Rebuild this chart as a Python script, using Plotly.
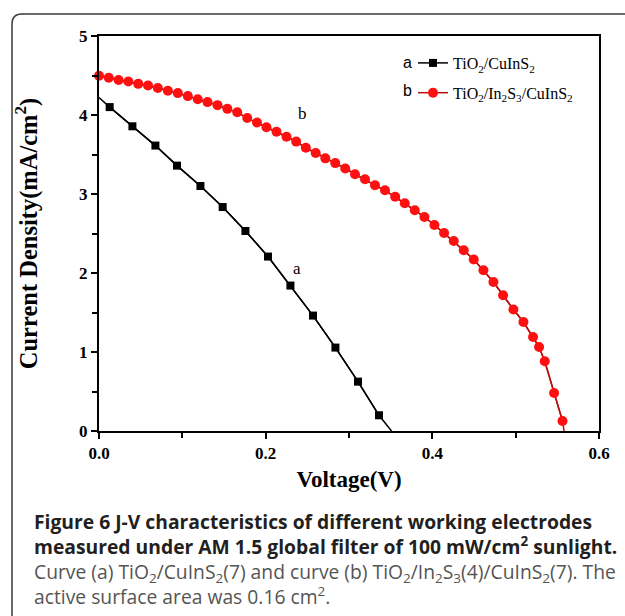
import plotly.graph_objects as go

# ---- data ----
a_v = [0.0128, 0.0401, 0.0677, 0.0936, 0.1217, 0.1484, 0.1757, 0.2028,
       0.2297, 0.2568, 0.2837, 0.3108, 0.3360]
a_j = [4.10, 3.857, 3.613, 3.359, 3.101, 2.835, 2.532, 2.208,
       1.841, 1.461, 1.056, 0.625, 0.199]
a_start = (0.0, 4.22)
a_end = (0.351, 0.0)

b_v = [0.0, 0.0117, 0.0235, 0.0352, 0.0471, 0.0588, 0.0706, 0.0826, 0.0946,
       0.1066, 0.1185, 0.1302, 0.1422, 0.1540, 0.1659, 0.1779, 0.1896, 0.2009,
       0.2130, 0.2250, 0.2366, 0.2482, 0.2600, 0.2716, 0.2835, 0.2955, 0.3072,
       0.3192, 0.3312, 0.3432, 0.3554, 0.3669, 0.3789, 0.3905, 0.4025, 0.4141,
       0.4257, 0.4377, 0.4497, 0.4613, 0.4733, 0.4849, 0.4973, 0.5093, 0.5209,
       0.5281, 0.5349, 0.5461, 0.5562]
b_j = [4.496, 4.471, 4.444, 4.423, 4.394, 4.373, 4.342, 4.306, 4.277,
       4.239, 4.199, 4.163, 4.125, 4.078, 4.034, 3.961, 3.904, 3.844,
       3.787, 3.724, 3.663, 3.585, 3.519, 3.451, 3.391, 3.323, 3.251,
       3.186, 3.110, 3.047, 2.965, 2.882, 2.794, 2.709, 2.608, 2.506,
       2.405, 2.287, 2.170, 2.034, 1.886, 1.718, 1.537, 1.380, 1.190,
       1.063, 0.882, 0.481, 0.127]
b_end = (0.5581, 0.0)

legend_a = "TiO<sub>2</sub>/CuInS<sub>2</sub>"
legend_b = "TiO<sub>2</sub>/In<sub>2</sub>S<sub>3</sub>/CuInS<sub>2</sub>"

x_ticks = [0.0, 0.2, 0.4, 0.6]
x_ticktext = ["0.0", "0.2", "0.4", "0.6"]
y_ticks = [0, 1, 2, 3, 4, 5]
y_ticktext = ["0", "1", "2", "3", "4", "5"]

caption_lines = [
    ("Figure 6 J-V characteristics of different working electrodes", True),
    ("measured under AM 1.5 global filter of 100 mW/cm<sup>2</sup> sunlight.", True),
    ("Curve (a) TiO<sub>2</sub>/CuInS<sub>2</sub>(7) and curve (b) TiO<sub>2</sub>/In<sub>2</sub>S<sub>3</sub>(4)/CuInS<sub>2</sub>(7). The", False),
    ("active surface area was 0.16 cm<sup>2</sup>.", False),
]

# ---- layout geometry ----
W, H = 625, 616
ML, MR, MT, MB = 99, 26, 36, 185
PW, PH = W - ML - MR, H - MT - MB


def px_x(px):
    return (px - ML) / PW


def px_y(py):
    return (H - MB - py) / PH


SERIF = "Liberation Serif"
red_line = "#b81010"
red_marker = "#ff1010"

fig = go.Figure()

# curve a: full line incl. end points
fig.add_trace(go.Scatter(
    x=[a_start[0]] + a_v + [a_end[0]], y=[a_start[1]] + a_j + [a_end[1]],
    mode="lines", line=dict(color="black", width=1.5),
    showlegend=False, hoverinfo="skip", cliponaxis=False))
fig.add_trace(go.Scatter(
    x=a_v, y=a_j, name=legend_a, mode="lines+markers", legendgroup="a",
    line=dict(color="black", width=1.5),
    marker=dict(symbol="square", size=8, color="black")))

# curve b
fig.add_trace(go.Scatter(
    x=b_v + [b_end[0]], y=b_j + [b_end[1]],
    mode="lines", line=dict(color=red_line, width=1.5),
    showlegend=False, hoverinfo="skip", cliponaxis=False))
fig.add_trace(go.Scatter(
    x=b_v, y=b_j, name=legend_b, mode="lines+markers", legendgroup="b",
    line=dict(color=red_line, width=1.5),
    marker=dict(symbol="circle", size=10, color=red_marker),
    cliponaxis=False))

annotations = [
    dict(x=0.237, y=2.06, xref="x", yref="y", text="a", showarrow=False,
         font=dict(family=SERIF, size=17, color="black")),
    dict(x=0.2445, y=4.02, xref="x", yref="y", text="b", showarrow=False,
         font=dict(family=SERIF, size=17, color="black")),
    dict(x=px_x(407), y=px_y(62), xref="paper", yref="paper", text="a",
         yanchor="middle", showarrow=False,
         font=dict(family="Liberation Sans", size=16, color="black")),
    dict(x=px_x(407), y=px_y(91), xref="paper", yref="paper", text="b",
         yanchor="middle", showarrow=False,
         font=dict(family="Liberation Sans", size=16, color="black")),
]

# caption as one multi-line text block
parts = []
for txt, bold in caption_lines:
    if bold:
        parts.append(f"<span style='color:#231f20'><b>{txt}</b></span>")
    else:
        parts.append(f"<span style='color:#555555'>{txt}</span>")
caption_text = "<br>".join(parts)
annotations.append(dict(
    x=px_x(32), y=px_y(506), xref="paper", yref="paper", xanchor="left",
    yanchor="top", text=caption_text, showarrow=False, align="left",
    font=dict(family="Open Sans", size=19.3, color="#231f20")))

# border (rounded top-left corner, open to right and bottom)
x0, y0, r = px_x(12), px_y(14), 10
xr = px_x(12 + r)
yr = px_y(14 + r)
path = (f"M {x0},{px_y(620)} L {x0},{yr} Q {x0},{y0} {xr},{y0} "
        f"L {px_x(630)},{y0}")
shapes = [dict(type="path", path=path, xref="paper", yref="paper",
               line=dict(color="#3a3a3a", width=1.5))]

axis_common = dict(
    showline=True, linecolor="black", linewidth=2, mirror=True,
    ticks="outside", ticklen=6, tickwidth=1.5, tickcolor="black",
    showgrid=False, zeroline=False,
    tickfont=dict(family=SERIF, size=17, color="black"),
)

fig.update_layout(
    width=W, height=H,
    margin=dict(l=ML, r=MR, t=MT, b=MB),
    paper_bgcolor="white", plot_bgcolor="white",
    xaxis=dict(range=[0, 0.6], tickvals=x_ticks,
               ticktext=[f"<b>{t}</b>" for t in x_ticktext],
               minor=dict(dtick=0.1, tick0=0, ticks="outside", ticklen=5,
                          tickwidth=1.5, tickcolor="black"),
               title=dict(text="<b>Voltage(V)</b>", standoff=8,
                          font=dict(family=SERIF, size=23, color="black")),
               **axis_common),
    yaxis=dict(range=[0, 5], tickvals=y_ticks,
               ticktext=[f"<b>{t}</b>" for t in y_ticktext],
               minor=dict(dtick=0.5, tick0=0, ticks="outside", ticklen=5,
                          tickwidth=1.5, tickcolor="black"),
               title=dict(text="<b>Current Density(mA/cm<sup>2</sup>)</b>", standoff=35,
                          font=dict(family=SERIF, size=24.5, color="black")),
               **axis_common),
    legend=dict(x=px_x(413), y=px_y(46), xanchor="left", yanchor="top",
                bgcolor="rgba(0,0,0,0)", borderwidth=0, itemwidth=30,
                tracegroupgap=6,
                font=dict(family=SERIF, size=16, color="black")),
    annotations=annotations,
    shapes=shapes,
)

fig.write_html("out.html")
